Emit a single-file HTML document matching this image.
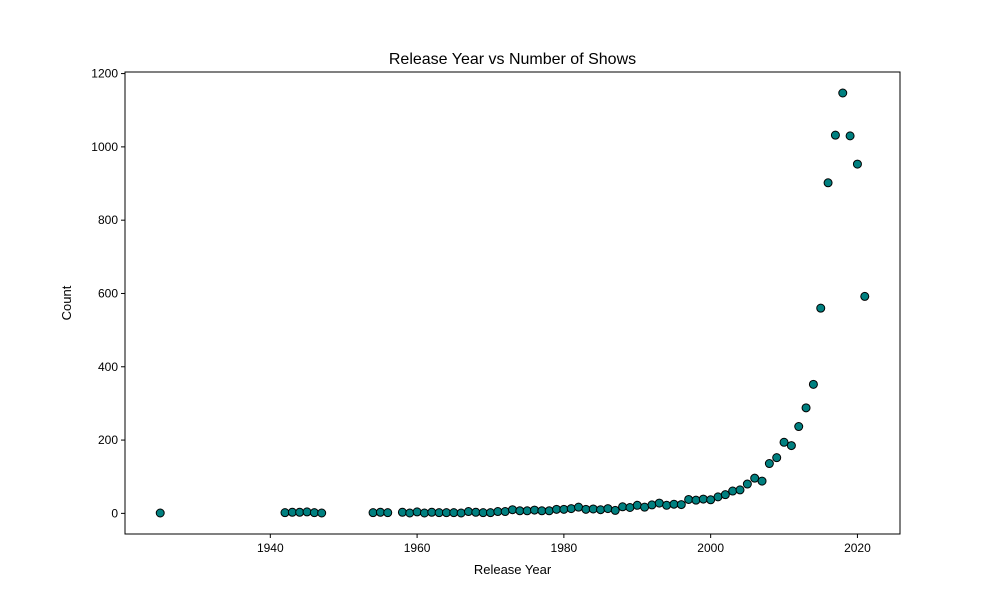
<!DOCTYPE html>
<html><head><meta charset="utf-8"><style>
body{margin:0;background:#fff;}
svg{font-family:"Liberation Sans","DejaVu Sans",sans-serif;}
</style></head><body>
<svg id="chart" width="1000" height="600">
<rect width="1000" height="600" fill="#fff"/>
<text x="512.5" y="64" text-anchor="middle" font-size="16">Release Year vs Number of Shows</text>
<g id="axes"></g>
<g id="points"></g>
<rect x="125" y="72" width="775" height="462" fill="none" stroke="#000" stroke-width="1"/>
<text x="512.5" y="574" text-anchor="middle" font-size="13">Release Year</text>
<text x="71" y="303" text-anchor="middle" font-size="13" transform="rotate(-90 71 303)">Count</text>
</svg>
<script>
const years=[1925,1942,1943,1944,1945,1946,1947,1954,1955,1956,1958,1959,1960,1961,1962,1963,1964,1965,1966,1967,1968,1969,1970,1971,1972,1973,1974,1975,1976,1977,1978,1979,1980,1981,1982,1983,1984,1985,1986,1987,1988,1989,1990,1991,1992,1993,1994,1995,1996,1997,1998,1999,2000,2001,2002,2003,2004,2005,2006,2007,2008,2009,2010,2011,2012,2013,2014,2015,2016,2017,2018,2019,2020,2021];
const counts=[1,2,3,3,4,2,1,2,3,2,3,1,4,1,3,2,2,2,1,5,3,2,2,5,5,10,7,7,9,7,7,11,11,13,17,11,12,10,13,8,18,16,22,17,23,28,22,25,24,38,36,39,37,45,51,61,64,80,96,88,136,152,194,185,237,288,352,560,902,1032,1147,1030,953,592];
const xTicks=[1940,1960,1980,2000,2020];
const yTicks=[0,200,400,600,800,1000,1200];
const X0=125,X1=900,Y0=534,Y1=72;
const xMin=1920.2,xMax=2025.8,yMin=-56.3,yMax=1204.3;
const sx=v=>X0+(v-xMin)/(xMax-xMin)*(X1-X0);
const sy=v=>Y0-(v-yMin)/(yMax-yMin)*(Y0-Y1);
const NS="http://www.w3.org/2000/svg";
const ax=document.getElementById('axes'),pts=document.getElementById('points');
function mk(t,a,p){const e=document.createElementNS(NS,t);for(const k in a)e.setAttribute(k,a[k]);p.appendChild(e);return e;}
xTicks.forEach(v=>{const x=sx(v);
const l=mk('line',{x1:x,x2:x,y1:Y0,y2:Y0+4,stroke:'#000'},ax);


const t=mk('text',{x:x,y:Y0+18,'text-anchor':'middle','font-size':12},ax);t.textContent=v;

});
yTicks.forEach(v=>{const y=sy(v);
const l=mk('line',{x1:X0-4,x2:X0,y1:y,y2:y,stroke:'#000'},ax);


const t=mk('text',{x:X0-7,y:y+4,'text-anchor':'end','font-size':12},ax);t.textContent=v;

});
years.forEach((yr,i)=>{const c=mk('circle',{cx:sx(yr),cy:sy(counts[i]),r:4,fill:'#008080',stroke:'#000','stroke-width':1},pts);

});
</script>
</body></html>
